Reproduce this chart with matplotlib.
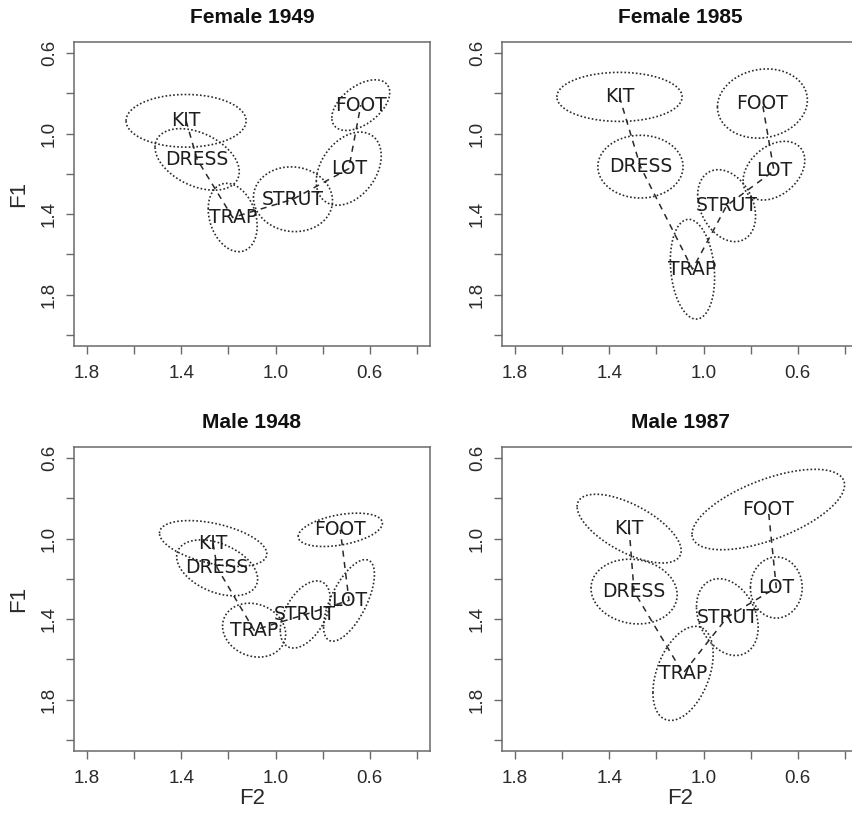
import numpy as np
import matplotlib
matplotlib.use("Agg")
import matplotlib.pyplot as plt

# Vowel categories, drawn in this order and joined by dashed lines
vowels = ["KIT", "DRESS", "TRAP", "STRUT", "LOT", "FOOT"]

# Female 1949: mean F2 / F1 and ellipse half-extents with F2-F1 correlation
f49_f2 = [1.380, 1.333, 1.182, 0.926, 0.689, 0.638]
f49_f1 = [0.936, 1.128, 1.417, 1.326, 1.174, 0.858]
f49_f2_spread = [0.255, 0.179, 0.104, 0.168, 0.138, 0.123]
f49_f1_spread = [0.131, 0.153, 0.170, 0.161, 0.182, 0.126]
f49_corr = [0.00, -0.40, -0.25, -0.05, 0.35, 0.50]

# Female 1985
f85_f2 = [1.357, 1.268, 1.047, 0.902, 0.701, 0.750]
f85_f1 = [0.817, 1.164, 1.674, 1.358, 1.184, 0.850]
f85_f2_spread = [0.266, 0.181, 0.094, 0.123, 0.131, 0.191]
f85_f1_spread = [0.122, 0.156, 0.248, 0.179, 0.146, 0.172]
f85_corr = [0.00, 0.00, -0.17, -0.29, 0.35, 0.10]

# Male 1948
m48_f2 = [1.265, 1.248, 1.091, 0.874, 0.688, 0.725]
m48_f1 = [1.024, 1.145, 1.455, 1.377, 1.307, 0.956]
m48_f2_spread = [0.228, 0.172, 0.134, 0.106, 0.108, 0.179]
m48_f1_spread = [0.114, 0.139, 0.134, 0.167, 0.203, 0.083]
m48_corr = [-0.45, -0.40, -0.15, 0.47, 0.64, 0.40]

# Male 1987
m87_f2 = [1.316, 1.295, 1.087, 0.899, 0.691, 0.725]
m87_f1 = [0.950, 1.263, 1.670, 1.390, 1.243, 0.855]
m87_f2_spread = [0.221, 0.183, 0.128, 0.131, 0.110, 0.324]
m87_f1_spread = [0.171, 0.161, 0.234, 0.191, 0.152, 0.200]
m87_corr = [-0.64, -0.10, 0.41, -0.27, 0.00, 0.61]

panels = [
    ("Female 1949", f49_f2, f49_f1, f49_f2_spread, f49_f1_spread, f49_corr),
    ("Female 1985", f85_f2, f85_f1, f85_f2_spread, f85_f1_spread, f85_corr),
    ("Male 1948", m48_f2, m48_f1, m48_f2_spread, m48_f1_spread, m48_corr),
    ("Male 1987", m87_f2, m87_f1, m87_f2_spread, m87_f1_spread, m87_corr),
]

x_ticks = [1.8, 1.6, 1.4, 1.2, 1.0, 0.8, 0.6, 0.4]
x_ticklabels = ["1.8", "", "1.4", "", "1.0", "", "0.6", ""]
y_ticks = [0.6, 0.8, 1.0, 1.2, 1.4, 1.6, 1.8, 2.0]
y_ticklabels = ["0.6", "", "1.0", "", "1.4", "", "1.8", ""]

W, H = 853, 818
fig = plt.figure(figsize=(W / 100, H / 100), dpi=100)
fig.patch.set_facecolor("white")

# Axes boxes in pixels: (left, top, width, height)
boxes = [(74, 42, 356, 304), (502, 42, 356, 304),
         (74, 447, 356, 304), (502, 447, 356, 304)]

axis_font = "Liberation Sans"
label_font = "DejaVu Sans"
frame_col = "#6a6a6a"
ink = "#2a2a2a"

t = np.linspace(0, 2 * np.pi, 400)

for i, (title, f2, f1, s2, s1, r) in enumerate(panels):
    l, tp, w, h = boxes[i]
    ax = fig.add_axes([l / W, 1 - (tp + h) / H, w / W, h / H])
    ax.set_xlim(1.856, 0.344)
    ax.set_ylim(2.056, 0.544)

    for sp in ax.spines.values():
        sp.set_color(frame_col)
        sp.set_linewidth(1.1)

    # Dashed path through the vowel means
    ax.plot(f2, f1, color=ink, lw=1.1, ls=(0, (4, 3.5)), zorder=2)

    # Dotted ellipses around each vowel mean
    for k in range(len(vowels)):
        d = np.arccos(r[k])
        ex = f2[k] + s2[k] * np.cos(t)
        ey = f1[k] + s1[k] * np.cos(t + d)
        ax.plot(ex, ey, color=ink, lw=1.2, ls=(0, (1, 1.3)), zorder=3)
        ax.text(f2[k], f1[k], vowels[k], ha="center", va="center",
                fontsize=13.5, family=label_font, color="#1e1e1e", zorder=4)

    ax.set_xticks(x_ticks)
    ax.set_xticklabels(x_ticklabels)
    ax.set_yticks(y_ticks)
    ax.set_yticklabels(y_ticklabels, rotation=90, va="center")
    ax.tick_params(direction="out", length=5.5, width=1.0, color=frame_col,
                   labelsize=13.5, labelcolor=ink)
    ax.tick_params(axis="x", pad=8)
    ax.tick_params(axis="y", pad=6)
    for lab in ax.get_xticklabels() + ax.get_yticklabels():
        lab.set_family(axis_font)

    ax.set_title(title, fontsize=15, fontweight="bold", family=axis_font,
                 color="#111111", pad=14)

    if i % 2 == 0:
        ax.set_ylabel("F1", fontsize=16, family=axis_font, color=ink)
        ax.yaxis.set_label_coords(-55 / w, 0.5)
        ax.yaxis.label.set_va("center")
    if i >= 2:
        ax.set_xlabel("F2", fontsize=16, family=axis_font, color=ink)
        ax.xaxis.set_label_coords(0.5, -48 / h)
        ax.xaxis.label.set_va("center")

fig.savefig("out.png", dpi=100, facecolor="white")
